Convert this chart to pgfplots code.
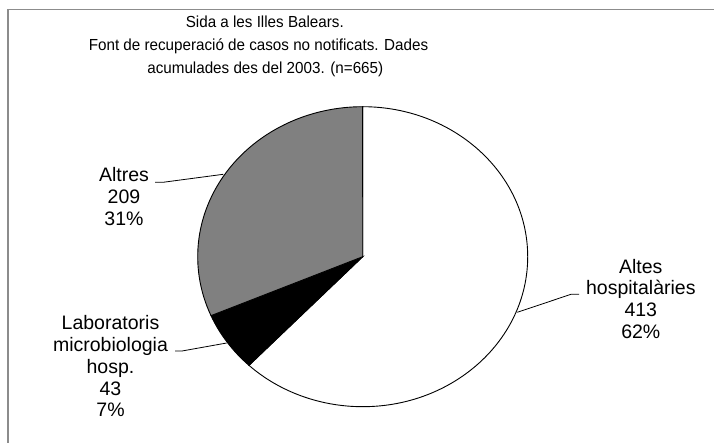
\documentclass[border=0pt]{standalone}
\usepackage{fontspec}
\setmainfont{Liberation Sans}
\newfontfamily\titlefont[FakeStretch=0.95]{Liberation Sans}
\usepackage{pgfplots}
\pgfplotsset{compat=1.18}
\definecolor{slicegray}{RGB}{128,128,128}
\definecolor{framegray}{RGB}{140,140,140}
\begin{document}
\begin{tikzpicture}
% data: Altes hospitalaries, Laboratoris microbiologia hosp., Altres
\def\vA{413}\def\vB{43}\def\vC{209}
\pgfmathsetmacro\tot{\vA+\vB+\vC}
\pgfmathsetmacro\aS{90}
\pgfmathsetmacro\aA{\aS-\vA/\tot*360}
\pgfmathsetmacro\aB{\aA-\vB/\tot*360}
\pgfmathsetmacro\aC{\aB-\vC/\tot*360}
\begin{axis}[
  at={(0,0)}, anchor=south west,
  scale only axis, width=714bp, height=443bp,
  xmin=0, xmax=714, ymin=0, ymax=443,
  axis lines=none, ticks=none, clip=false,
]
% frame
\draw[framegray, line width=1.5bp] (axis cs:8,0) -- (axis cs:8,433.3) -- (axis cs:714,433.3);
% slices
\fill[white, draw=black, line width=0.9bp] (axis cs:362.7,186.3) -- ++(\aS:165bp and 150bp)
  arc[start angle=\aS, end angle=\aA, x radius=165bp, y radius=150bp] -- cycle;
\fill[black, draw=black, line width=0.9bp] (axis cs:362.7,186.3) -- ++(\aA:165bp and 150bp)
  arc[start angle=\aA, end angle=\aB, x radius=165bp, y radius=150bp] -- cycle;
\fill[slicegray, draw=black, line width=0.9bp] (axis cs:362.7,186.3) -- ++(\aB:165bp and 150bp)
  arc[start angle=\aB, end angle=\aC, x radius=165bp, y radius=150bp] -- cycle;
% leader lines
\draw[black, line width=0.8bp] (axis cs:155,260.7) -- (axis cs:163,260.7) -- (axis cs:223.3,268.7);
\draw[black, line width=0.8bp] (axis cs:175,92) -- (axis cs:182,92) -- (axis cs:226.7,100);
\draw[black, line width=0.8bp] (axis cs:517.3,130.7) -- (axis cs:571,148.7) -- (axis cs:579,148.7);
% title
\begin{scope}[every node/.style={anchor=base, inner sep=0pt, font=\titlefont\fontsize{16bp}{20bp}\selectfont}]
\node at (axis cs:264.8,415.7) {Sida a les Illes Balears.};
\node at (axis cs:258.5,392.3) {Font de recuperació de casos no notificats. Dades};
\node at (axis cs:265.3,369) {acumulades des del 2003. (n=665)};
\end{scope}
% labels
\begin{scope}[every node/.style={anchor=base, inner sep=0pt, font=\fontsize{19.5bp}{22bp}\selectfont}]
\node at (axis cs:124,261.3) {Altres};
\node at (axis cs:124,239) {209};
\node at (axis cs:124,217.5) {31\%};
\node at (axis cs:110.5,113) {Laboratoris};
\node at (axis cs:110.5,91.3) {microbiologia};
\node at (axis cs:110.5,69.6) {hosp.};
\node at (axis cs:110.5,47.9) {43};
\node at (axis cs:110.5,26.2) {7\%};
\node at (axis cs:640.8,169.7) {Altes};
\node at (axis cs:640.8,148) {hospitalàries};
\node at (axis cs:640.8,126.3) {413};
\node at (axis cs:640.8,104.6) {62\%};
\end{scope}
\end{axis}
\pgfresetboundingbox
\path[use as bounding box] (0,0) rectangle (714bp,443bp);
\end{tikzpicture}
\end{document}
